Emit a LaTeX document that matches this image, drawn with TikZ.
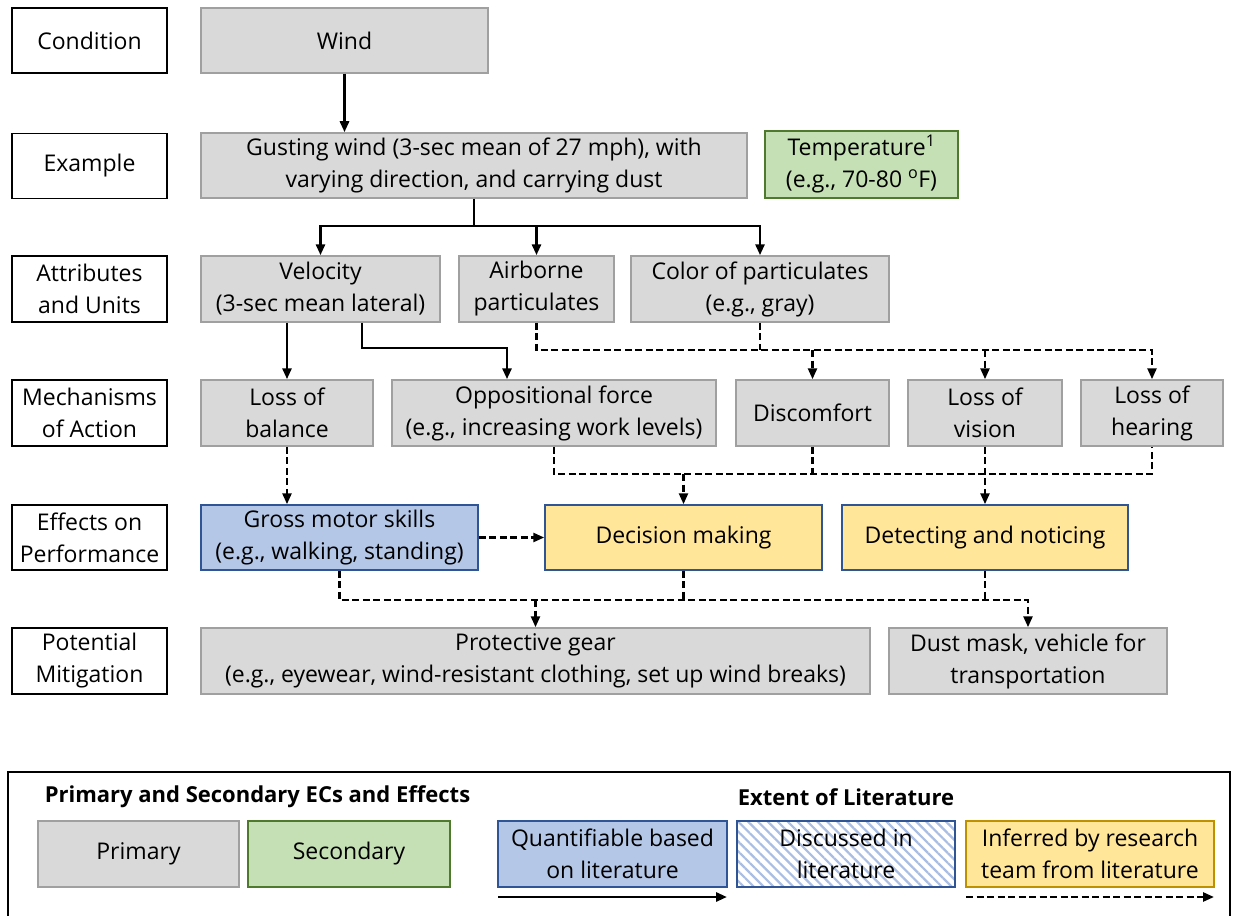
\documentclass[tikz,border=0pt]{standalone}
\usepackage{fontspec}
\setmainfont{Open Sans}
\usetikzlibrary{arrows.meta,patterns.meta}
\definecolor{gfill}{HTML}{D9D9D9}
\definecolor{gdraw}{HTML}{A0A0A0}
\definecolor{grfill}{HTML}{C5E0B4}
\definecolor{grdraw}{HTML}{4F7A2E}
\definecolor{bfill}{HTML}{B4C7E7}
\definecolor{bdraw}{HTML}{2F5597}
\definecolor{yfill}{HTML}{FFE699}
\definecolor{ydraw}{HTML}{BF9000}
\definecolor{hatch}{HTML}{A9BEE2}
\tikzset{
  base/.style={rectangle, inner sep=0pt, align=center, line width=1.5pt,
    font=\fontsize{23}{32}\selectfont},
  lab/.style={base, draw=black, fill=white, line width=1.4pt},
  gbox/.style={base, draw=gdraw, fill=gfill},
  grbox/.style={base, draw=grdraw, fill=grfill},
  bbox/.style={base, draw=bdraw, fill=bfill},
  ybox/.style={base, draw=bdraw, fill=yfill},
  ylbox/.style={base, draw=ydraw, fill=yfill},
  hbox/.style={base, draw=bdraw, pattern={Lines[angle=-45,distance=7pt,line width=2.2pt]}, pattern color=hatch},
  sline/.style={line width=2.9pt, line cap=butt},
  sarr/.style={sline, -{Triangle[length=11pt,width=9pt]}},
  dline/.style={line width=2.5pt, dash pattern=on 7pt off 3.5pt},
  darr/.style={dline, -{Triangle[length=11pt,width=9pt]}},
  ttl/.style={font=\fontsize{22}{26}\selectfont\bfseries, inner sep=0pt}
}
\begin{document}
\begin{tikzpicture}[x=1pt,y=-1pt]
\clip (0,0) rectangle (1233,915);
\fill[white] (0,0) rectangle (1233,915);
% row labels
\node[lab, minimum width=155, minimum height=65] (l1) at (89.5,40.5) {Condition};
\node[lab, minimum width=155, minimum height=65] (l2) at (89.5,166) {Example};
\node[lab, minimum width=155, minimum height=66] (l3) at (89.5,289) {Attributes\\and Units};
\node[lab, minimum width=155, minimum height=66] (l4) at (89.5,413) {Mechanisms\\of Action};
\node[lab, minimum width=155, minimum height=65] (l5) at (89.5,537.5) {Effects on\\Performance};
\node[lab, minimum width=155, minimum height=66] (l6) at (89.5,661) {Potential\\Mitigation};
% row 1
\node[gbox, minimum width=287, minimum height=65] (wind) at (344.5,40.5) {Wind};
% row 2
\node[gbox, minimum width=546, minimum height=65] (gust) at (474,165.5) {Gusting wind (3-sec mean of 27 mph), with\\varying direction, and carrying dust};
\node[grbox, minimum width=193, minimum height=67] (temp) at (861.5,164.5) {Temperature\textsuperscript{1}\\(e.g., 70-80 \textsuperscript{o}F)};
% row 3
\node[gbox, minimum width=239, minimum height=66] (velo) at (320.5,289) {Velocity\\(3-sec mean lateral)};
\node[gbox, minimum width=155, minimum height=66] (air) at (536.5,289) {Airborne\\particulates};
\node[gbox, minimum width=258, minimum height=66] (col) at (760,289) {Color of particulates\\(e.g., gray)};
% row 4
\node[gbox, minimum width=172, minimum height=66] (bal) at (287,413) {Loss of\\balance};
\node[gbox, minimum width=324, minimum height=66] (opp) at (554,413) {Oppositional force\\(e.g., increasing work levels)};
\node[gbox, minimum width=153, minimum height=66] (disc) at (812.5,413) {Discomfort};
\node[gbox, minimum width=154, minimum height=66] (vis) at (985,413) {Loss of\\vision};
\node[gbox, minimum width=142, minimum height=66] (hear) at (1152,413) {Loss of\\hearing};
% row 5
\node[bbox, minimum width=277, minimum height=65] (gross) at (339.5,537.5) {Gross motor skills\\(e.g., walking, standing)};
\node[ybox, minimum width=277, minimum height=65] (dec) at (683.5,537.5) {Decision making};
\node[ybox, minimum width=286, minimum height=65] (det) at (985,537.5) {Detecting and noticing};
% row 6
\node[gbox, minimum width=669, minimum height=66] (prot) at (535.5,661) {Protective gear\\(e.g., eyewear, wind-resistant clothing, set up wind breaks)};
\node[gbox, minimum width=278, minimum height=66] (dust) at (1028,661) {Dust mask, vehicle for\\transportation};
% connectors
\draw[sarr] (wind.south) -- (wind.south |- gust.north);
\coordinate (j1) at (474,226);
\draw[sline] (gust.south) -- (j1);
\draw[sarr] (j1) -| (velo.north);
\draw[sarr] (j1) -| (air.north);
\draw[sarr] (j1) -| (col.north);
\draw[sarr] (velo.south -| bal.north) -- (bal.north);
\coordinate (v2) at (362,348);
\coordinate (v3) at (507,348);
\draw[sarr] (velo.south -| v2) -- (v2) -- (v3) -- (v3 |- opp.north);
\coordinate (d1) at (536.5,350);
\draw[darr] (air.south) -- (air.south |- d1) -| (hear.north);
\draw[dline] (col.south) -- (col.south |- d1);
\draw[darr] (disc.north |- d1) -- (disc.north);
\draw[darr] (vis.north |- d1) -- (vis.north);
\coordinate (d2) at (554,474);
\draw[dline] (opp.south) -- (opp.south |- d2) -| (hear.south);
\draw[dline] (disc.south) -- (disc.south |- d2);
\draw[darr] (dec.north |- d2) -- (dec.north);
\draw[darr] (vis.south) -- (det.north);
\draw[darr] (bal.south) -- (bal.south |- gross.north);
\draw[darr] (gross.east) -- (dec.west);
\coordinate (d3) at (339.5,600);
\draw[darr] (gross.south) -- (gross.south |- d3) -| (dust.north);
\draw[dline] (dec.south) -- (dec.south |- d3);
\draw[dline] (det.south) -- (det.south |- d3);
\draw[darr] (prot.north |- d3) -- (prot.north);
% legend
\draw[line width=2.5pt] (8,935) -- (8,772) -- (1230,772) -- (1230,935);
\node[ttl] (t1) at (257.5,797) {Primary and Secondary ECs and Effects};
\node[ttl] (t2) at (846,797) {Extent of Literature};
\node[gbox, minimum width=201, minimum height=66] (kp) at (138.5,854) {Primary};
\node[grbox, minimum width=202, minimum height=66] (ks) at (349,854) {Secondary};
\node[bbox, minimum width=229, minimum height=66] (kq) at (612.5,854) {Quantifiable based\\on literature};
\node[hbox, minimum width=218, minimum height=66] (kd) at (846,854) {Discussed in\\literature};
\node[ylbox, minimum width=248, minimum height=66] (ki) at (1090,854) {Inferred by research\\team from literature};
\coordinate (a1) at (498,897);
\coordinate (a2) at (727,897);
\coordinate (a3) at (966,897);
\coordinate (a4) at (1214,897);
\draw[sarr] (a1) -- (a2);
\draw[darr] (a3) -- (a4);
\end{tikzpicture}
\end{document}
